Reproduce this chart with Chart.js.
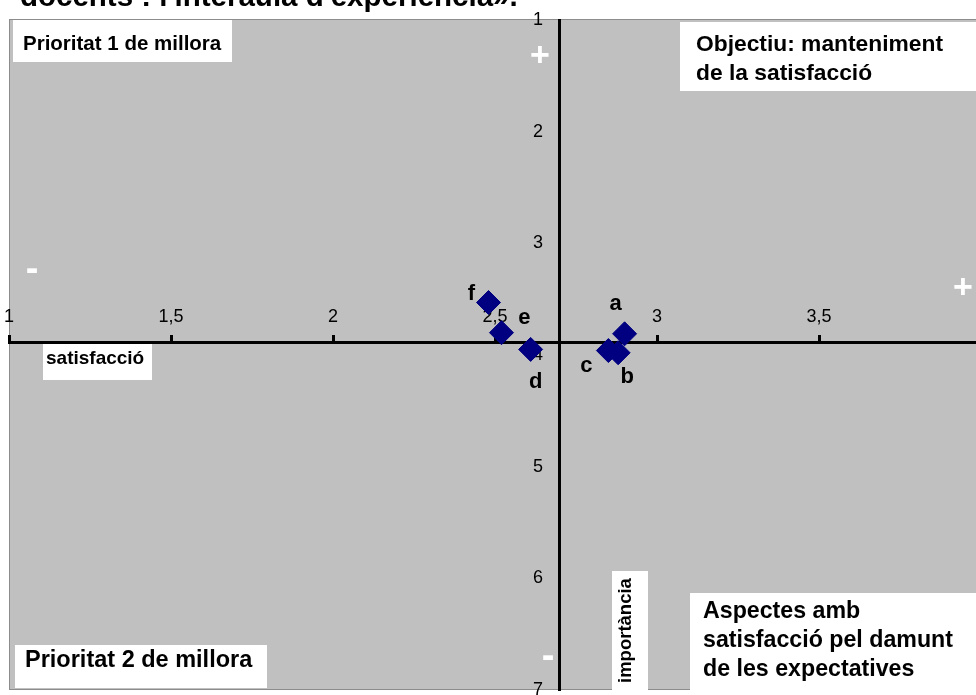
<!DOCTYPE html>
<html>
<head>
<meta charset="utf-8">
<script src="https://cdn.jsdelivr.net/npm/chart.js@4.4.1/dist/chart.umd.min.js"></script>
<style>
    body { margin: 0; overflow: hidden; background: #fff; }
    #wrap { width: 976px; height: 695px; overflow: hidden; }
</style>
</head>
<body>
<div id="wrap"><canvas id="matrixChart" width="985" height="695"></canvas></div>
<script>
// Aspects a-f: satisfaction (x) vs importance (y)
const aspectLabels = ['a', 'b', 'c', 'd', 'e', 'f'];
const satisfaccio = [2.90, 2.88, 2.85, 2.61, 2.52, 2.48];
const importancia = [3.81, 3.98, 3.96, 3.95, 3.80, 3.53];

// axis ranges and where the axes cross
const xRange = [1, 4];
const yRange = [1, 7];
const xStep = 0.5;
const yStep = 1;
const crossX = 2.70;
const crossY = 3.89;

const titleText = "docents : l'interaula d'experiència».";

// letter offsets from each diamond (px)
const labelOffsets = [[-9, -30], [9, 24], [-22, 15], [5, 33], [23, -15], [-17, -9]];

// white boxes with quadrant notes
const notes = [
    { box: [13, 20, 219, 42], lines: ['Prioritat 1 de millora'], x: 23, y: 50, size: 20.5, gap: 0 },
    { box: [680, 22, 300, 69], lines: ['Objectiu: manteniment', 'de la satisfacció'], x: 696, y: 51, size: 22.8, gap: 29 },
    { box: [43, 343, 109, 37], lines: ['satisfacció'], x: 46, y: 364, size: 19, gap: 0 },
    { box: [690, 593, 295, 97], lines: ['Aspectes amb', 'satisfacció pel damunt', 'de les expectatives'], x: 703, y: 618, size: 23.2, gap: 29 },
    { box: [15, 645, 252, 43], lines: ['Prioritat 2 de millora'], x: 25, y: 667, size: 23.5, gap: 0 }
];
const signs = [['+', 540, 57, 34], ['+', 963, 289, 34], ['-', 32, 271, 38], ['-', 548, 658, 38]];

const FONT = '"Liberation Sans", Arial, sans-serif';

// keep label overhang from shrinking the plot area
function noPadding(scale) {
    scale.paddingLeft = 0;
    scale.paddingRight = 0;
    scale.paddingTop = 0;
    scale.paddingBottom = 0;
}

const decorPlugin = {
    id: 'decor',
    beforeDraw(chart) {
        const { ctx, chartArea: a } = chart;
        ctx.save();
        ctx.fillStyle = '#c0c0c0';
        ctx.fillRect(a.left, a.top, a.right - a.left, a.bottom - a.top);
        ctx.strokeStyle = '#8c8c8c';
        ctx.lineWidth = 1;
        ctx.strokeRect(a.left + 0.5, a.top - 0.5, a.right - a.left, a.bottom - a.top);

        // title (cut off at the top)
        ctx.fillStyle = '#000';
        ctx.font = 'bold 29.5px ' + FONT;
        ctx.textBaseline = 'alphabetic';
        ctx.textAlign = 'left';
        ctx.fillText(titleText, 20, 6);

        notes.forEach(n => {
            ctx.fillStyle = '#fff';
            ctx.fillRect(n.box[0], n.box[1], n.box[2], n.box[3]);
            ctx.fillStyle = '#000';
            ctx.font = 'bold ' + n.size + 'px ' + FONT;
            n.lines.forEach((line, i) => ctx.fillText(line, n.x, n.y + i * n.gap));
        });

        // vertical axis title
        ctx.fillStyle = '#fff';
        ctx.fillRect(612, 571, 36, 119);
        ctx.save();
        ctx.translate(631, 683);
        ctx.rotate(-Math.PI / 2);
        ctx.fillStyle = '#000';
        ctx.font = 'bold 18.5px ' + FONT;
        ctx.fillText('importància', 0, 0);
        ctx.restore();

        ctx.fillStyle = '#fff';
        ctx.textAlign = 'center';
        ctx.textBaseline = 'middle';
        signs.forEach(s => {
            ctx.font = 'bold ' + s[3] + 'px ' + FONT;
            ctx.fillText(s[0], s[1], s[2]);
        });
        ctx.restore();
    },
    afterDatasetsDraw(chart) {
        const { ctx } = chart;
        const meta = chart.getDatasetMeta(0);
        ctx.save();
        ctx.fillStyle = '#000';
        ctx.font = 'bold 22px ' + FONT;
        ctx.textAlign = 'center';
        ctx.textBaseline = 'middle';
        meta.data.forEach((pt, i) => {
            ctx.fillText(aspectLabels[i], pt.x + labelOffsets[i][0], pt.y + labelOffsets[i][1]);
        });
        ctx.restore();
    }
};

function initChart() {
    const ctx = document.getElementById('matrixChart').getContext('2d');
    new Chart(ctx, {
        type: 'scatter',
        data: {
            datasets: [{
                label: 'aspectes',
                data: satisfaccio.map((v, i) => ({ x: v, y: importancia[i] })),
                pointStyle: 'rectRot',
                pointRadius: 12,
                pointHoverRadius: 12,
                backgroundColor: '#000080',
                borderColor: '#000080',
                borderWidth: 1
            }]
        },
        options: {
            responsive: false,
            animation: false,
            events: [],
            layout: { autoPadding: false, padding: { left: 9, top: 20, right: 4, bottom: 5 } },
            plugins: {
                legend: { display: false },
                tooltip: { enabled: false }
            },
            scales: {
                x: {
                    type: 'linear',
                    min: xRange[0],
                    max: xRange[1],
                    position: { y: crossY },
                    afterFit: noPadding,
                    border: { display: true, color: '#000', width: 3 },
                    grid: { drawOnChartArea: false, drawTicks: true, tickLength: -9, tickWidth: 3, tickColor: '#000' },
                    ticks: {
                        stepSize: xStep,
                        padding: -27,
                        color: '#000',
                        font: { family: FONT, size: 18 },
                        maxRotation: 0,
                        autoSkip: false,
                        callback: v => String(v).replace('.', ',')
                    }
                },
                y: {
                    type: 'linear',
                    min: yRange[0],
                    max: yRange[1],
                    reverse: true,
                    position: { x: crossX },
                    afterFit: noPadding,
                    border: { display: true, color: '#000', width: 3 },
                    grid: { drawOnChartArea: false, drawTicks: false },
                    ticks: { display: false, stepSize: yStep }
                },
                yTicks: {
                    axis: 'y',
                    type: 'linear',
                    min: yRange[0],
                    max: yRange[1],
                    reverse: true,
                    position: { x: 2.648 },
                    afterFit: noPadding,
                    border: { display: false },
                    grid: { display: false },
                    ticks: {
                        stepSize: yStep,
                        color: '#000',
                        font: { family: FONT, size: 18 }
                    }
                }
            }
        },
        plugins: [decorPlugin]
    });
}

document.addEventListener('DOMContentLoaded', initChart);
</script>
</body>
</html>
